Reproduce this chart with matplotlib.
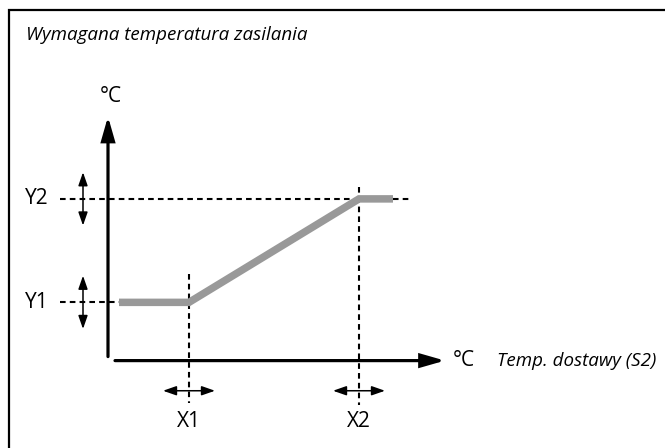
import matplotlib
matplotlib.use("Agg")
import matplotlib.pyplot as plt
from matplotlib.patches import FancyArrowPatch

plt.rcParams['font.family'] = ['Open Sans', 'DejaVu Sans']

# Characteristic: constant Y1 below X1, linear rise to Y2 at X2, constant above
curve_x = [1.1, 8.1, 25.1, 28.5]
curve_y = [5.8, 5.8, 16.1, 16.1]
x_points = [8.1, 25.1]
y_points = [5.8, 16.1]
x_labels = ["X1", "X2"]
y_labels = ["Y1", "Y2"]
title = "Wymagana temperatura zasilania"
x_axis_title = "Temp. dostawy (S2)"
unit = "°C"

fig = plt.figure(figsize=(6.65, 4.48), dpi=100)
ax = fig.add_axes([0, 0, 1, 1])
ax.set_xlim(-10.8, 55.7)
ax.set_ylim(-8.7, 35.9)
ax.axis('off')

# Panel frame (left and top edges)
ax.plot([-9.9, -9.9, 55.7], [-8.7, 34.9, 34.9], color='black', lw=1.6,
        solid_joinstyle='miter', clip_on=False)

ax.text(-8.2, 32.4, title, fontsize=13.5, style='italic', ha='left', va='center')

# Axes with arrowheads
def axis_arrow(p0, p1):
    ax.add_patch(FancyArrowPatch(p0, p1, arrowstyle='-|>,head_length=1.4,head_width=0.4',
                                 mutation_scale=10, lw=2.3, color='black',
                                 shrinkA=0, shrinkB=0, joinstyle='miter'))

axis_arrow((0, 0.4), (0, 24.3))
axis_arrow((0.7, 0), (33.7, 0))

ax.text(0.3, 26.3, unit, fontsize=15, ha='center', va='center')
ax.text(34.5, 0, unit, fontsize=15, ha='left', va='center')
ax.text(38.9, 0, x_axis_title, fontsize=13.5, style='italic', ha='left', va='center')

dash = dict(color='black', lw=1.5, dashes=(2.7, 2.0))

# Horizontal guides at Y1 / Y2
ax.plot([-4.8, x_points[0]], [y_points[0], y_points[0]], **dash)
ax.plot([-4.8, 30.4], [y_points[1], y_points[1]], **dash)

# Vertical guides at X1 / X2
ax.plot([x_points[0], x_points[0]], [8.6, -4.2], **dash)
ax.plot([x_points[1], x_points[1]], [17.3, -4.4], **dash)

# Characteristic curve
ax.plot(curve_x, curve_y, color='#999999', lw=5.4, solid_capstyle='butt',
        solid_joinstyle='miter')

def double_arrow(p0, p1):
    ax.add_patch(FancyArrowPatch(p0, p1, arrowstyle='<|-|>,head_length=0.8,head_width=0.28',
                                 mutation_scale=10, lw=1.1, color='black',
                                 shrinkA=0, shrinkB=0))

for yv, lab in zip(y_points, y_labels):
    double_arrow((-2.5, yv - 2.65), (-2.5, yv + 2.65))
    ax.text(-7.1, yv, lab, fontsize=15, ha='center', va='center')

for xv, lab in zip(x_points, x_labels):
    double_arrow((xv - 2.6, -3.0), (xv + 2.6, -3.0))
    ax.text(xv, -6.1, lab, fontsize=15, ha='center', va='center')

fig.savefig("out.png", dpi=100)
